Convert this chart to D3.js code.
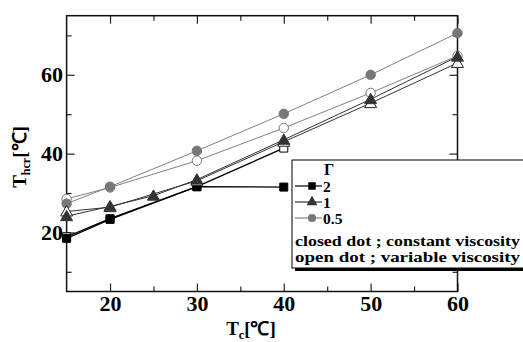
<!DOCTYPE html>
<html>
<head>
<meta charset="utf-8">
<script src="https://cdn.jsdelivr.net/npm/d3@7"></script>
<style>
  html, body { margin: 0; padding: 0; background: #fff; }
  svg { display: block; }
</style>
</head>
<body>
<svg id="chart" width="523" height="342"></svg>
<script>
// Tc [°C] at which each series was evaluated
const tcSq2Closed = [15, 20, 30, 40];
const thSq2Closed = [18.5, 23.3, 31.6, 31.5];

const tcSq2Open = [15, 20, 30, 40];
const thSq2Open = [18.9, 23.5, 31.6, 41.4];

const tcTri1Closed = [15, 20, 25, 30, 40, 50, 60];
const thTri1Closed = [24.1, 26.6, 29.3, 33.4, 43.5, 53.8, 64.6];

const tcTri1Open = [15, 20, 30, 40, 50, 60];
const thTri1Open = [25.3, 26.4, 33.1, 43.0, 52.8, 63.0];

const tcCirHalfClosed = [15, 20, 30, 40, 50, 60];
const thCirHalfClosed = [27.3, 31.6, 40.7, 50.1, 60.0, 70.6];

const tcCirHalfOpen = [15, 20, 30, 40, 50, 60];
const thCirHalfOpen = [28.5, 31.4, 38.2, 46.5, 55.4, 64.8];

const xMajorTicks = [20, 30, 40, 50, 60];
const xMinorTicks = [25, 35, 45, 55];
const yMajorTicks = [20, 40, 60];
const yMinorTicks = [10, 30, 50, 70];

const legendGammas = ["2", "1", "0.5"];
const legendNotes = ["closed dot ; constant viscosity", "open dot ; variable viscosity"];

const SERIF = '"Liberation Serif", serif';
function serif(sel, px) {
  return sel.style("font-family", SERIF).style("font-weight", "bold").style("font-size", px + "px");
}

const svg = d3.select("#chart");
const L = 66.6, R = 457.5, T = 15.7, B = 291.5;

const x = d3.scaleLinear().domain([15, 60]).range([L, R]);
const y = d3.scaleLinear().domain([5, 75]).range([B, T]);

// axes with inward ticks on all four sides
function addAxis(axisFn, scale, tx, ty, values, size, labels) {
  const ax = axisFn(scale).tickValues(values).tickSize(-size).tickPadding(labels ? 3.5 : 0);
  if (!labels) ax.tickFormat("");
  const g = svg.append("g").attr("transform", `translate(${tx},${ty})`).call(ax);
  g.select(".domain").remove();
  g.selectAll(".tick line").attr("stroke", "#222").attr("stroke-width", 1.2);
  serif(g.selectAll(".tick text"), 22).attr("fill", "#000");
  return g;
}
addAxis(d3.axisBottom, x, 0, B, xMajorTicks, 8, true);
addAxis(d3.axisBottom, x, 0, B, xMinorTicks, 5, false);
addAxis(d3.axisTop, x, 0, T, xMajorTicks, 8, false);
addAxis(d3.axisTop, x, 0, T, xMinorTicks, 5, false);
addAxis(d3.axisLeft, y, L, 0, yMajorTicks, 8, true);
addAxis(d3.axisLeft, y, L, 0, yMinorTicks, 5, false);
addAxis(d3.axisRight, y, R, 0, yMajorTicks, 8, false);
addAxis(d3.axisRight, y, R, 0, yMinorTicks, 5, false);

svg.append("rect").attr("x", L).attr("y", T).attr("width", R - L).attr("height", B - T)
  .attr("fill", "none").attr("stroke", "#111").attr("stroke-width", 1.5);

// series
const line = d3.line().x(d => x(d[0])).y(d => y(d[1]));
const series = [
  { tc: tcSq2Open, th: thSq2Open, shape: d3.symbolSquare, size: 64, fill: "#fff", stroke: "#000", line: "#000", lw: 1.3 },
  { tc: tcSq2Closed, th: thSq2Closed, shape: d3.symbolSquare, size: 64, fill: "#000", stroke: "#000", line: "#000", lw: 1.3 },
  { tc: tcCirHalfOpen, th: thCirHalfOpen, shape: d3.symbolCircle, size: 70, fill: "#fff", stroke: "#777", line: "#808080", lw: 1 },
  { tc: tcCirHalfClosed, th: thCirHalfClosed, shape: d3.symbolCircle, size: 70, fill: "#777", stroke: "#777", line: "#808080", lw: 1 },
  { tc: tcTri1Open, th: thTri1Open, shape: d3.symbolTriangle, size: 62, fill: "#fff", stroke: "#222", line: "#333", lw: 1 },
  { tc: tcTri1Closed, th: thTri1Closed, shape: d3.symbolTriangle, size: 62, fill: "#333", stroke: "#333", line: "#333", lw: 1 }
];

series.forEach(s => {
  const pts = s.tc.map((t, i) => [t, s.th[i]]);
  svg.append("path").datum(pts).attr("d", line)
    .attr("fill", "none").attr("stroke", s.line).attr("stroke-width", s.lw);
});
series.forEach(s => {
  const pts = s.tc.map((t, i) => [t, s.th[i]]);
  svg.append("g").selectAll("path").data(pts).join("path")
    .attr("transform", d => `translate(${x(d[0])},${y(d[1]) + (s.shape === d3.symbolTriangle ? 1 : 0)})`)
    .attr("d", d3.symbol().type(s.shape).size(s.size))
    .attr("fill", s.fill).attr("stroke", s.stroke).attr("stroke-width", 1);
});

// legend box with drop shadow
const lg = svg.append("g").attr("transform", "translate(292,160)");
lg.append("rect").attr("x", 3).attr("y", 3).attr("width", 240).attr("height", 108).attr("fill", "#000");
lg.append("rect").attr("x", 0).attr("y", 0).attr("width", 240).attr("height", 108)
  .attr("fill", "#fff").attr("stroke", "#000").attr("stroke-width", 1);
serif(lg.append("text"), 16).attr("x", 37).attr("y", 15).attr("text-anchor", "middle").text("Γ");

const legendStyles = [
  { shape: d3.symbolSquare, size: 56, fill: "#000", line: "#000" },
  { shape: d3.symbolTriangle, size: 52, fill: "#333", line: "#333" },
  { shape: d3.symbolCircle, size: 52, fill: "#777", line: "#808080" }
];
legendGammas.forEach((g, i) => {
  const yy = 26 + i * 16;
  const st = legendStyles[i];
  lg.append("line").attr("x1", 3).attr("x2", 30).attr("y1", yy).attr("y2", yy)
    .attr("stroke", st.line).attr("stroke-width", 1.2);
  lg.append("path").attr("transform", `translate(20,${yy})`)
    .attr("d", d3.symbol().type(st.shape).size(st.size)).attr("fill", st.fill);
  serif(lg.append("text"), 15.5).attr("x", 31).attr("y", yy + 5.5).text(g);
});
legendNotes.forEach((t, i) => {
  serif(lg.append("text"), 15.5).attr("x", 3).attr("y", 86 + i * 16)
    .attr("textLength", 225).attr("lengthAdjust", "spacingAndGlyphs").text(t);
});

// axis titles
const xt = serif(svg.append("text"), 19).attr("x", 251).attr("y", 335).attr("text-anchor", "middle");
xt.append("tspan").text("T");
xt.append("tspan").attr("dy", 4).style("font-size", "12px").text("c");
xt.append("tspan").attr("dy", -4).text("[℃]");

const yt = serif(svg.append("text"), 19).attr("transform", "translate(26,157) rotate(-90)")
  .attr("text-anchor", "middle");
yt.append("tspan").text("T");
yt.append("tspan").attr("dy", 4).style("font-size", "12px").text("hcr");
yt.append("tspan").attr("dy", -4).text("[℃]");
</script>
</body>
</html>
